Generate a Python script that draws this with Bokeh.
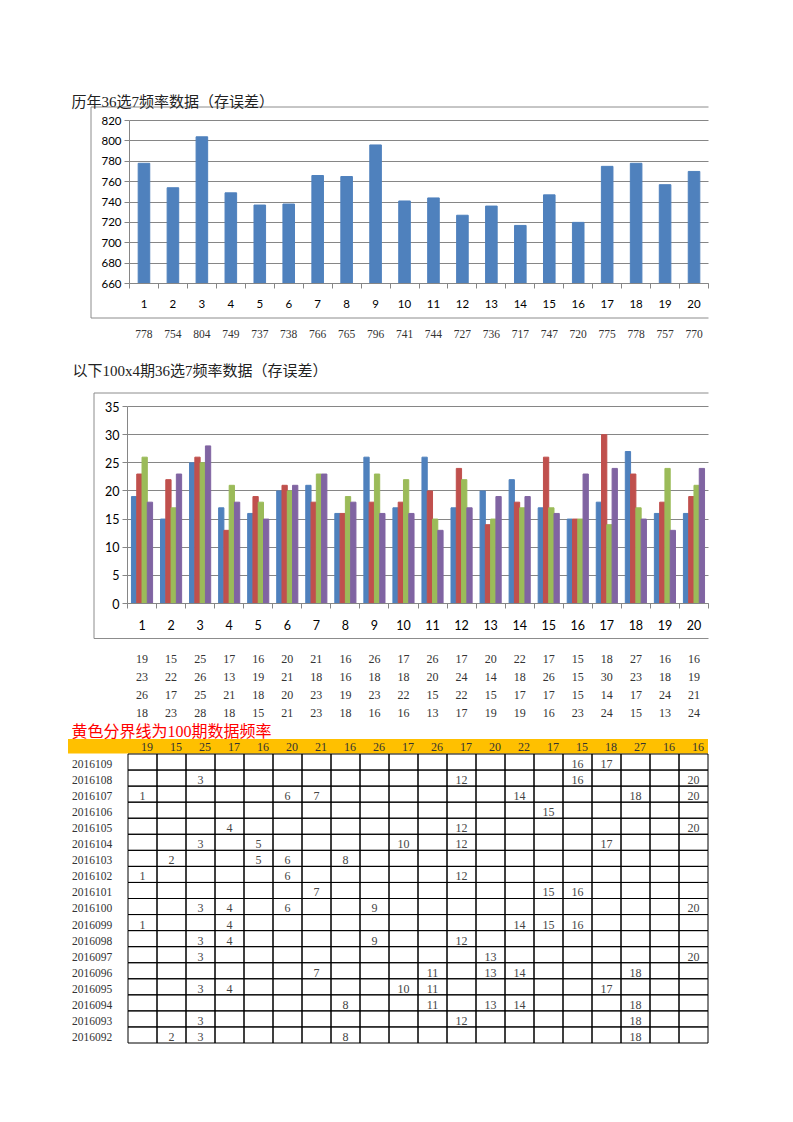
from bokeh.plotting import figure
from bokeh.layouts import column
from bokeh.models import Range1d, FixedTicker, LinearAxis, Grid, ColumnDataSource
from bokeh.core.properties import value
from bokeh.transform import dodge
from bokeh.embed import file_html
from bokeh.resources import INLINE

# ---------------- data ----------------
numbers = list(range(1, 21))
hist_freq = [778, 754, 804, 749, 737, 738, 766, 765, 796, 741,
             744, 727, 736, 717, 747, 720, 775, 778, 757, 770]
hist_ticks = [660, 680, 700, 720, 740, 760, 780, 800, 820]

period_a = [19, 15, 25, 17, 16, 20, 21, 16, 26, 17, 26, 17, 20, 22, 17, 15, 18, 27, 16, 16]
period_b = [23, 22, 26, 13, 19, 21, 18, 16, 18, 18, 20, 24, 14, 18, 26, 15, 30, 23, 18, 19]
period_c = [26, 17, 25, 21, 18, 20, 23, 19, 23, 22, 15, 22, 15, 17, 17, 15, 14, 17, 24, 21]
period_d = [18, 23, 28, 18, 15, 21, 23, 18, 16, 16, 13, 17, 19, 19, 16, 23, 24, 15, 13, 24]
freq_ticks = [0, 5, 10, 15, 20, 25, 30, 35]

periods = ["2016109", "2016108", "2016107", "2016106", "2016105", "2016104",
           "2016103", "2016102", "2016101", "2016100", "2016099", "2016098",
           "2016097", "2016096", "2016095", "2016094", "2016093", "2016092"]
hits = [
    [16, 17],
    [3, 12, 16, 20],
    [1, 6, 7, 14, 18, 20],
    [15],
    [4, 12, 20],
    [3, 5, 10, 12, 17],
    [2, 5, 6, 8],
    [1, 6, 12],
    [7, 15, 16],
    [3, 4, 6, 9, 20],
    [1, 4, 14, 15, 16],
    [3, 4, 9, 12],
    [3, 13, 20],
    [7, 11, 13, 14, 18],
    [3, 4, 10, 11, 17],
    [8, 11, 13, 14, 18],
    [3, 12, 18],
    [2, 3, 8, 18],
]

TITLE1 = "历年36选7频率数据（存误差）"
TITLE2 = "以下100x4期36选7频率数据（存误差）"
TITLE3 = "黄色分界线为100期数据频率"

# ---------------- styles ----------------
BLUE, RED, GREEN, PURPLE = "#4F81BD", "#C0504D", "#9BBB59", "#8064A2"
GRID = "#868686"
BOX = "#8C8C8C"
SANS = "Lato"
SERIF = "Liberation Serif"
MIXED = "'Liberation Serif', 'Noto Sans CJK SC'"
W = 790


def lin(p0, p1, d0, d1):
    """map a page pixel position to the data position of a figure"""
    return lambda p: d0 + (p - p0) * (d1 - d0) / (p1 - p0)


def make_fig(y_top, height, fx, fy):
    p = figure(width=W, height=height,
               x_range=Range1d(fx(0), fx(W)), y_range=Range1d(fy(y_top + height), fy(y_top)),
               x_axis_type=None, y_axis_type=None, output_backend="svg",
               toolbar_location=None, min_border=0)
    p.outline_line_color = None
    p.background_fill_color = "white"
    p.border_fill_color = "white"
    return p


def add_axes(p, yticks, fs):
    xax = LinearAxis(fixed_location=yticks[0], bounds=(0.5, 20.5),
                     ticker=FixedTicker(ticks=numbers,
                                        minor_ticks=[n - 0.5 for n in numbers] + [20.5]))
    xax.major_tick_out = 0
    xax.major_tick_in = 0
    xax.minor_tick_out = 5
    xax.minor_tick_in = 0
    xax.minor_tick_line_color = GRID
    xax.axis_line_color = GRID
    xax.major_label_standoff = 11
    xax.major_label_text_font = SANS
    xax.major_label_text_font_size = fs
    xax.major_label_text_color = "black"
    p.add_layout(xax, "below")

    yax = LinearAxis(fixed_location=0.5, bounds=(yticks[0], yticks[-1]),
                     ticker=FixedTicker(ticks=yticks, minor_ticks=[]))
    yax.major_tick_out = 5
    yax.major_tick_in = 0
    yax.minor_tick_out = 0
    yax.minor_tick_in = 0
    yax.major_tick_line_color = GRID
    yax.axis_line_color = GRID
    yax.major_label_standoff = 3
    yax.major_label_text_font = SANS
    yax.major_label_text_font_size = fs
    yax.major_label_text_color = "black"
    p.add_layout(yax, "left")

    grid = Grid(dimension=1, ticker=FixedTicker(ticks=yticks, minor_ticks=[]),
                grid_line_color=GRID, grid_line_width=1)
    try:
        grid.cross_bounds = (0.5, 20.5)
        p.add_layout(grid)
    except Exception:
        p.segment(x0=0.5, x1=20.5, y0=yticks, y1=yticks, line_color=GRID, line_width=1,
                  level="underlay")


def box_lines(p, fx, fy, left, top, right, bottom):
    p.line(x=[fx(right), fx(left), fx(left), fx(right)],
           y=[fy(top), fy(top), fy(bottom), fy(bottom)], line_color=BOX, line_width=1)


# ---------------- chart 1 (page y 0..350) ----------------
fx1 = lin(129, 708, 0.5, 20.5)
fy1 = lin(283, 120, 660, 820)
p1 = make_fig(0, 350, fx1, fy1)
add_axes(p1, hist_ticks, "11.5px")
p1.vbar(x=numbers, top=hist_freq, bottom=hist_ticks[0], width=0.4,
        fill_color=BLUE, line_color=BLUE)
box_lines(p1, fx1, fy1, 90.5, 106.5, 708, 317.5)
p1.text(x=[fx1(71)], y=[fy1(101)], text=[TITLE1], text_font=value(MIXED),
        text_font_size=value("15px"), text_baseline="middle", text_align="left",
        text_color="#222222")
p1.text(x=numbers, y=fy1(333), text=[str(v) for v in hist_freq], text_align="center",
        text_baseline="middle", text_font=value(SERIF), text_font_size=value("11.5px"),
        text_color="#333333")

# ---------------- chart 2 (page y 350..722) ----------------
fx2 = lin(127, 708, 0.5, 20.5)
fy2 = lin(603, 406, 0, 35)
p2 = make_fig(350, 372, fx2, fy2)
add_axes(p2, freq_ticks, "12.5px")
src2 = ColumnDataSource(dict(x=numbers, a=period_a, b=period_b, c=period_c, d=period_d))
bw = 1 / 5.5
for key, off, col in [("a", -1.5 * bw, BLUE), ("b", -0.5 * bw, RED),
                      ("c", 0.5 * bw, GREEN), ("d", 1.5 * bw, PURPLE)]:
    p2.vbar(x=dodge("x", off, range=p2.x_range), top=key, bottom=0, width=bw,
            source=src2, fill_color=col, line_color=col)
box_lines(p2, fx2, fy2, 93.5, 392.5, 708, 638)
p2.text(x=[fx2(72)], y=[fy2(370)], text=[TITLE2], text_font=value(MIXED),
        text_font_size=value("15px"), text_baseline="middle", text_align="left",
        text_color="#222222")
for key, py in [("a", 658), ("b", 676.5), ("c", 694), ("d", 712)]:
    p2.text(x=numbers, y=fy2(py), text=[str(v) for v in src2.data[key]],
            text_align="center", text_baseline="middle", text_font=value(SERIF),
            text_font_size=value("12px"), text_color="#333333")

# ---------------- table (page y 722..1117) ----------------
fx3 = lin(127.5, 707.5, 0, 20)
fy3 = lin(1042.5, 753.5, 0, 18)
p3 = make_fig(722, 395, fx3, fy3)
n_rows = len(periods)

p3.quad(left=fx3(67.5), right=20, bottom=fy3(753), top=fy3(738.5),
        fill_color="#FFC000", line_color=None)
p3.text(x=numbers, y=fy3(746), text=[str(v) for v in period_a], x_offset=-4,
        text_align="right", text_baseline="middle", text_font=value(SERIF),
        text_font_size=value("12px"), text_color="#333333")

cell_x, cell_y = [], []
for r in range(n_rows):
    for c in range(len(numbers)):
        cell_x.append(c + 0.5)
        cell_y.append(n_rows - r - 0.5)
p3.rect(x=cell_x, y=cell_y, width=1, height=1, fill_color=None, line_color="black",
        line_width=1)

hx, hy, ht = [], [], []
for r, row in enumerate(hits):
    for n in row:
        hx.append(n - 0.5)
        hy.append(n_rows - r - 0.62)
        ht.append(str(n))
p3.text(x=hx, y=hy, text=ht, text_align="center", text_baseline="middle",
        text_font=value(SERIF), text_font_size=value("12px"), text_color="#444444")

p3.text(x=fx3(71.5), y=[n_rows - r - 0.62 for r in range(n_rows)], text=periods,
        text_align="left", text_baseline="middle", text_font=value(SERIF),
        text_font_size=value("11.5px"), text_color="#333333")
p3.text(x=[fx3(71)], y=[fy3(731)], text=[TITLE3], text_font=value(MIXED),
        text_font_size=value("16px"), text_baseline="middle", text_align="left",
        text_color="#FF0000")

layout = column(p1, p2, p3, spacing=0)
open("out.html", "w").write(file_html(layout, INLINE))
